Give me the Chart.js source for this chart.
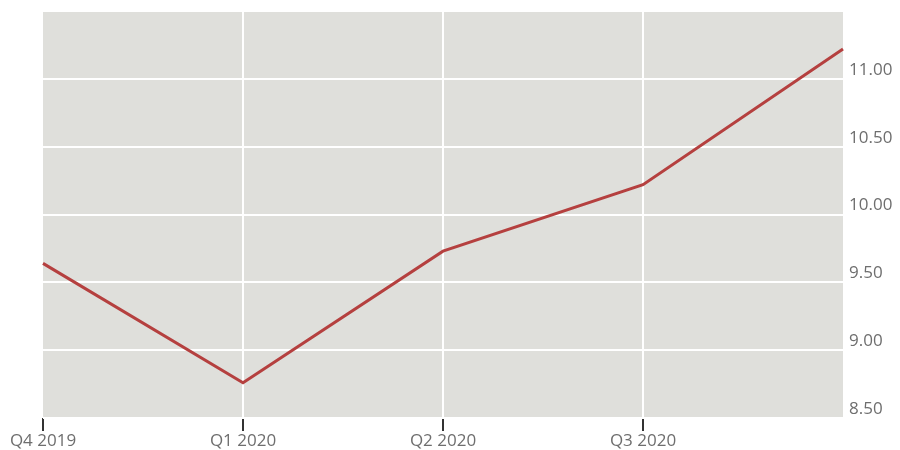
<!DOCTYPE html>
<html>
<head>
<meta charset="utf-8">
<script src="https://cdn.jsdelivr.net/npm/chart.js@4"></script>
<style>
  html, body { margin: 0; padding: 0; background: #ffffff; }
  #wrap { width: 900px; height: 450px; }
</style>
</head>
<body>
<div id="wrap"><canvas id="chart" width="900" height="450"></canvas></div>
<script>
// Quarterly values
const quarters = ['Q4 2019', 'Q1 2020', 'Q2 2020', 'Q3 2020', 'Q4 2020'];
const values = [9.64, 8.76, 9.73, 10.22, 11.22];
// Quarters that get a tick mark and label on the axis
const labelledQuarters = ['Q4 2019', 'Q1 2020', 'Q2 2020', 'Q3 2020'];
const yMin = 8.5, yMax = 11.5, yStep = 0.5;

// Grey panel behind the plotting area
const panelBackground = {
  id: 'panelBackground',
  beforeDraw(chart) {
    const { ctx, chartArea: a } = chart;
    ctx.save();
    ctx.fillStyle = '#dfdfdb';
    ctx.fillRect(a.left, a.top, a.right - a.left, a.bottom - a.top);
    ctx.restore();
  }
};

const lastIndex = quarters.length - 1;

new Chart(document.getElementById('chart'), {
  type: 'line',
  data: {
    labels: quarters,
    datasets: [{
      data: values,
      borderColor: '#b5403f',
      borderWidth: 3,
      pointRadius: 0,
      tension: 0,
      fill: false
    }]
  },
  options: {
    responsive: false,
    animation: false,
    layout: { padding: { left: 43, top: 11, right: 0, bottom: 0 } },
    plugins: { legend: { display: false }, tooltip: { enabled: false } },
    scales: {
      x: {
        type: 'category',
        offset: false,
        border: { display: false },
        grid: {
          color: (c) => (c.index === 0 || c.index === lastIndex) ? 'rgba(0,0,0,0)' : '#ffffff',
          lineWidth: 2,
          drawTicks: true,
          tickLength: 13,
          tickColor: (c) => labelledQuarters.includes(quarters[c.index]) ? '#333333' : 'rgba(0,0,0,0)',
          tickWidth: 2
        },
        ticks: {
          autoSkip: false,
          maxRotation: 0,
          padding: 0,
          color: '#6e6e6e',
          font: { family: 'Open Sans', size: 17 },
          callback: (v, i) => labelledQuarters.includes(quarters[i]) ? quarters[i] : ''
        },
        afterFit: (s) => { s.height = 32; s.paddingLeft = 0; s.paddingRight = 0; }
      },
      y: {
        position: 'right',
        min: yMin,
        max: yMax,
        border: { display: false },
        grid: {
          color: '#ffffff',
          lineWidth: 2,
          drawTicks: false
        },
        ticks: {
          stepSize: yStep,
          padding: 6,
          labelOffset: -9,
          color: '#6e6e6e',
          font: { family: 'Open Sans', size: 17 },
          callback: (v) => v >= yMax ? '' : Number(v).toFixed(2)
        },
        afterFit: (s) => { s.width = 57; s.paddingTop = 0; s.paddingBottom = 0; }
      }
    }
  },
  plugins: [panelBackground]
});
</script>
</body>
</html>
